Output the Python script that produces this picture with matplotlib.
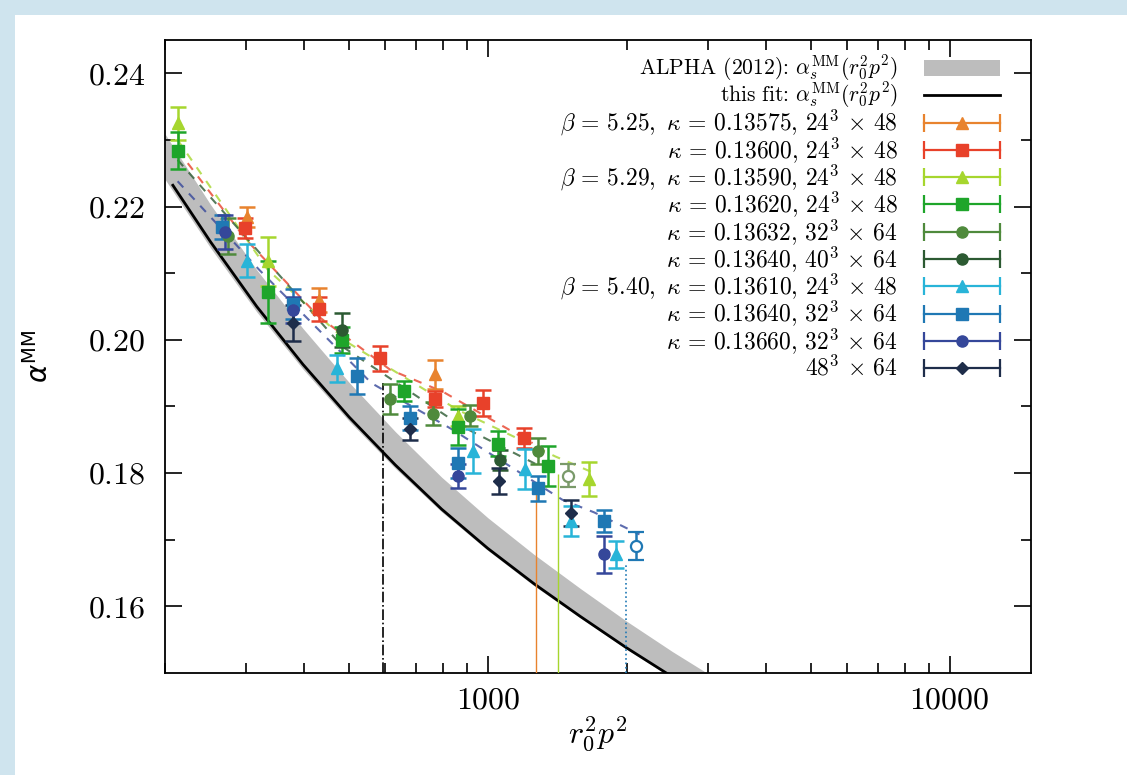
import numpy as np
import matplotlib.pyplot as plt
from matplotlib.patches import Rectangle
from matplotlib.lines import Line2D

plt.rcParams['mathtext.fontset'] = 'cm'
plt.rcParams['font.family'] = ['cmr10', 'DejaVu Serif']
plt.rcParams['axes.formatter.use_mathtext'] = True

# ALPHA (2012) band
band_x = [200, 251, 316, 398, 501, 631, 794, 1000, 1259, 1585, 1995, 2512, 3162]
band_lo = [0.2241, 0.2138, 0.2042, 0.1956, 0.1878, 0.1807, 0.1742, 0.1684, 0.1631, 0.1583, 0.1536, 0.1492, 0.1451]
band_hi = [0.2309, 0.2203, 0.2105, 0.2017, 0.1936, 0.1862, 0.1794, 0.1733, 0.1678, 0.1627, 0.1578, 0.1532, 0.1489]

# this fit
fit_x = [208, 251, 316, 398, 501, 631, 794, 1000, 1259, 1585, 1995, 2512]
fit_y = [0.2232, 0.2147, 0.2050, 0.1963, 0.1884, 0.1812, 0.1746, 0.1687, 0.1634, 0.1585, 0.1538, 0.1494]

# data: beta=5.25
k13575_x = [301, 430, 770]
k13575_y = [0.2185, 0.2060, 0.1948]
k13575_e = [0.0015, 0.0018, 0.0022]

k13600_x = [298, 430, 585, 768, 975, 1196]
k13600_y = [0.2168, 0.2047, 0.1972, 0.1911, 0.1905, 0.1853]
k13600_e = [0.0015, 0.0018, 0.0019, 0.0012, 0.0020, 0.0015]

# beta=5.29
k13590_x = [213, 334, 860, 1655]
k13590_y = [0.2325, 0.2118, 0.1885, 0.1791]
k13590_e = [0.0025, 0.0037, 0.0015, 0.0026]

k13620_x = [213, 334, 484, 657, 864, 1050, 1348]
k13620_y = [0.2284, 0.2072, 0.2000, 0.1923, 0.1869, 0.1844, 0.1811]
k13620_e = [0.0028, 0.0047, 0.0020, 0.0015, 0.0027, 0.0019, 0.0030]

k13632_x = [274, 615, 759, 913, 1283]
k13632_y = [0.2156, 0.1911, 0.1889, 0.1886, 0.1833]
k13632_e = [0.0027, 0.0022, 0.0017, 0.0016, 0.0019]
k13632_open_x = [1489]
k13632_open_y = [0.1796]
k13632_open_e = [0.0017]

k13640_40_x = [484, 1060]
k13640_40_y = [0.2015, 0.1820]
k13640_40_e = [0.0025, 0.0015]

# beta=5.40
k13610_x = [301, 472, 927, 1202, 1512, 1893]
k13610_y = [0.2119, 0.1957, 0.1833, 0.1806, 0.1728, 0.1678]
k13610_e = [0.0025, 0.0020, 0.0033, 0.0030, 0.0022, 0.0020]

k13640_32_x = [266, 379, 522, 680, 860, 1283, 1784]
k13640_32_y = [0.2170, 0.2054, 0.1945, 0.1882, 0.1815, 0.1777, 0.1728]
k13640_32_e = [0.0018, 0.0022, 0.0027, 0.0018, 0.0022, 0.0019, 0.0017]

k13660_x = [270, 379, 860, 1784]
k13660_y = [0.2162, 0.2045, 0.1795, 0.1678]
k13660_e = [0.0025, 0.0020, 0.0018, 0.0028]
k13660_open_x = [2091]
k13660_open_y = [0.1690]
k13660_open_e = [0.0021]

l48_x = [379, 680, 1055, 1512]
l48_y = [0.2025, 0.1866, 0.1788, 0.1740]
l48_e = [0.0027, 0.0017, 0.0019, 0.0020]

# dashed curves (per beta)
dash_red_x = [213, 300, 430, 615, 800, 1050, 1250]
dash_red_y = [0.2285, 0.2150, 0.2035, 0.1955, 0.1922, 0.1875, 0.1845]
dash_yg_x = [213, 334, 500, 860, 1400, 1700]
dash_yg_y = [0.2300, 0.2105, 0.1995, 0.1895, 0.1825, 0.1800]
dash_dg_x = [213, 484, 880, 1300]
dash_dg_y = [0.2270, 0.1990, 0.1870, 0.1810]
dash_blue_x = [213, 320, 560, 840, 1450, 1700, 2130]
dash_blue_y = [0.2238, 0.2105, 0.1935, 0.1865, 0.1760, 0.1741, 0.1708]

# huge error bars reaching below the frame
vbar_x = [1270, 1417, 1990]
vbar_top = [0.1776, 0.1799, 0.1663]
cut_x = 594
cut_top = 0.1935

c_orange = '#e8832e'
c_red = '#e8412a'
c_yg = '#a6d62e'
c_green = '#1ea52a'
c_olive = '#4f8a3c'
c_dgreen = '#2c5a32'
c_cyan = '#28b4d8'
c_teal = '#1f78b4'
c_blue = '#35479a'
c_navy = '#1e2d4a'

series = [
    (r'$\beta\,=\,5.25,\ \kappa\,=\,0.13575,\,24^3\,\times\,48$', k13575_x, k13575_y, k13575_e, c_orange, '^'),
    (r'$\kappa\,=\,0.13600,\,24^3\,\times\,48$', k13600_x, k13600_y, k13600_e, c_red, 's'),
    (r'$\beta\,=\,5.29,\ \kappa\,=\,0.13590,\,24^3\,\times\,48$', k13590_x, k13590_y, k13590_e, c_yg, '^'),
    (r'$\kappa\,=\,0.13620,\,24^3\,\times\,48$', k13620_x, k13620_y, k13620_e, c_green, 's'),
    (r'$\kappa\,=\,0.13632,\,32^3\,\times\,64$', k13632_x, k13632_y, k13632_e, c_olive, 'o'),
    (r'$\kappa\,=\,0.13640,\,40^3\,\times\,64$', k13640_40_x, k13640_40_y, k13640_40_e, c_dgreen, 'o'),
    (r'$\beta\,=\,5.40,\ \kappa\,=\,0.13610,\,24^3\,\times\,48$', k13610_x, k13610_y, k13610_e, c_cyan, '^'),
    (r'$\kappa\,=\,0.13640,\,32^3\,\times\,64$', k13640_32_x, k13640_32_y, k13640_32_e, c_teal, 's'),
    (r'$\kappa\,=\,0.13660,\,32^3\,\times\,64$', k13660_x, k13660_y, k13660_e, c_blue, 'o'),
    (r'$48^3\,\times\,64$', l48_x, l48_y, l48_e, c_navy, 'D'),
]

fig = plt.figure(figsize=(11.27, 7.75), dpi=100)
fig.patch.set_facecolor('#cfe4ee')
fig.add_artist(Rectangle((15 / 1127, 0), 1, 1 - 15 / 775, transform=fig.transFigure,
                         facecolor='white', edgecolor='none', zorder=0))
ax = fig.add_axes([165 / 1127, 1 - 673 / 775, 866 / 1127, 633 / 775])

ax.fill_between(band_x, band_lo, band_hi, color='#bdbdbd', lw=0, zorder=1)
ax.plot(fit_x, fit_y, color='black', lw=2, zorder=2)

for dx, dy, c in [(dash_red_x, dash_red_y, c_red), (dash_yg_x, dash_yg_y, c_yg),
                  (dash_dg_x, dash_dg_y, c_dgreen), (dash_blue_x, dash_blue_y, c_blue)]:
    ax.plot(dx, dy, color=c, lw=1.5, ls=(0, (4, 4)), alpha=0.8, zorder=3)

ax.vlines(vbar_x[:2], 0.15, vbar_top[:2], colors=[c_orange, c_yg], lw=1, zorder=3)
ax.vlines(vbar_x[2:], 0.15, vbar_top[2:], colors=[c_teal], lw=1.2, linestyles=':', zorder=3)
ax.vlines(cut_x, 0.15, cut_top, colors='black', lw=1.2, linestyles='-.', zorder=3)

for lab, x, y, e, c, m in series:
    ms = 6.5 if m == 'D' else 8
    ax.errorbar(x, y, yerr=e, fmt=m, color=c, ms=ms, capsize=6, elinewidth=1.8,
                capthick=1.8, zorder=4)

for x, y, e, c in [(k13632_open_x, k13632_open_y, k13632_open_e, '#7a9a6a'),
                   (k13660_open_x, k13660_open_y, k13660_open_e, c_teal)]:
    ax.errorbar(x, y, yerr=e, fmt='o', color=c, mfc='white', ms=8, mew=1.6,
                capsize=6, elinewidth=1.8, capthick=1.8, zorder=4)

ax.set_xscale('log')
ax.set_xlim(200, 15000)
ax.set_ylim(0.15, 0.245)
ax.set_xticks([1000, 10000])
ax.set_xticklabels(['$1000$', '$10000$'])
ax.set_yticks([0.16, 0.18, 0.20, 0.22, 0.24])
ax.set_yticklabels(['$0.16$', '$0.18$', '$0.20$', '$0.22$', '$0.24$'])
ax.set_yticks([0.17, 0.19, 0.21, 0.23], minor=True)
ax.tick_params(which='both', direction='in', top=True, right=True, width=1.2, labelsize=23)
ax.tick_params(which='major', length=12)
ax.tick_params(which='minor', length=7)
ax.tick_params(axis='x', pad=10)
ax.tick_params(axis='y', pad=14)
for sp in ax.spines.values():
    sp.set_linewidth(1.3)

ax.set_xlabel(r'$r_0^2p^2$', fontsize=23, labelpad=0)
ax.set_ylabel(r'$\alpha^{\mathrm{MM}}$', fontsize=20, math_fontfamily='dejavusans', labelpad=24)

# legend drawn row by row (text right, horizontal error-bar handle left)
tx = 0.8464
hx0, hx1 = 0.877, 0.964
row0 = 0.9558
step = 0.0431
rows = [r'ALPHA (2012): $\alpha_s^{\mathrm{MM}}(r_0^2p^2)$',
        r'this fit: $\alpha_s^{\mathrm{MM}}(r_0^2p^2)$'] + [s[0] for s in series]
for i, lab in enumerate(rows):
    yy = row0 - i * step
    ax.text(tx, yy, lab, transform=ax.transAxes, ha='right', va='center',
            fontsize=15.5 if i < 2 else 17)
    if i == 0:
        ax.add_patch(Rectangle((hx0, yy - 0.012), hx1 - hx0, 0.024, transform=ax.transAxes,
                               facecolor='#bdbdbd', edgecolor='none'))
    elif i == 1:
        ax.add_line(Line2D([hx0, hx1], [yy, yy], transform=ax.transAxes, color='black', lw=2))
    else:
        _, _, _, _, c, m = series[i - 2]
        ax.add_line(Line2D([hx0, hx1], [yy, yy], transform=ax.transAxes, color=c, lw=1.6))
        ax.add_line(Line2D([hx0, hx1], [yy, yy], transform=ax.transAxes, color=c, lw=0,
                           marker='|', ms=13, mew=1.6))
        ax.add_line(Line2D([(hx0 + hx1) / 2], [yy], transform=ax.transAxes, color=c,
                           marker=m, ms=6.5 if m == 'D' else 8))

fig.savefig('out.png', dpi=100, facecolor=fig.get_facecolor())
